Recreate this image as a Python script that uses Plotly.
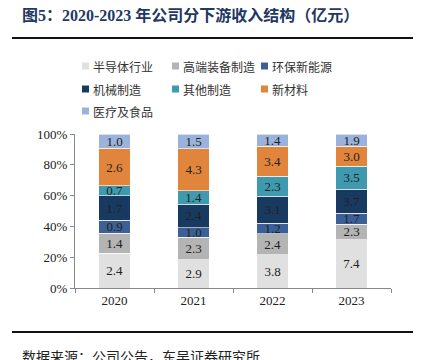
import plotly.graph_objects as go

years = ["2020", "2021", "2022", "2023"]
series_names = ["半导体行业", "高端装备制造", "环保新能源", "机械制造", "其他制造", "新材料", "医疗及食品"]
semiconductor = [2.4, 2.9, 3.8, 7.4]
high_end_equipment = [1.4, 2.3, 2.4, 2.3]
green_energy = [0.9, 1.0, 1.2, 1.7]
machinery = [1.7, 2.4, 3.1, 3.7]
other_mfg = [0.7, 1.4, 2.3, 3.5]
new_materials = [2.6, 4.3, 3.4, 3.0]
medical_food = [1.0, 1.5, 1.4, 1.9]
series_values = [semiconductor, high_end_equipment, green_energy, machinery,
                 other_mfg, new_materials, medical_food]
colors = ["#e0e0e0", "#b4b4b4", "#3c6096", "#183a60", "#3f9ab0", "#e0853b", "#9bb2da"]
y_ticks = [0, 20, 40, 60, 80, 100]
y_tick_labels = ["0%", "20%", "40%", "60%", "80%", "100%"]

# page offset (browser body margin)
OFF = 8
W, H = 421, 360
X0, X1, Y0, Y1 = 75, 391, 134, 288  # plot area in window pixels
ML, MR, MT, MB = X0 - OFF, W - X1, Y0 - OFF, H - Y1
FW, FH = W - OFF, H - OFF
PW, PH = X1 - X0, Y1 - Y0

def px(x):
    return (x - X0) / PW

def py(y):
    return (Y1 - y) / PH

serif = "Liberation Serif, Times New Roman, Noto Sans CJK SC, serif"
cjk = "Noto Sans CJK SC, sans-serif"

fig = go.Figure()
for name, vals, c in zip(series_names, series_values, colors):
    fig.add_trace(go.Bar(
        x=years, y=vals, name=name, marker=dict(color=c, line=dict(color="white", width=0.6)),
        text=[f"{v:.1f}" for v in vals], textposition="inside", insidetextanchor="middle",
        textangle=0, textfont=dict(family=serif, size=13, color="#222222"),
        width=0.4, showlegend=False,
    ))

annotations = []
shapes = []
legend_pos = [(85, 66), (175, 66), (264, 66), (85, 89), (175, 89), (264, 89), (85, 111)]
for (lx, ly), name, c in zip(legend_pos, series_names, colors):
    shapes.append(dict(type="rect", xref="paper", yref="paper",
                       x0=px(lx - 3), x1=px(lx + 4), y0=py(ly + 3.5), y1=py(ly - 3.5),
                       fillcolor=c, line=dict(width=0)))
    annotations.append(dict(x=px(lx + 6), y=py(ly), xref="paper", yref="paper",
                            text=name, showarrow=False, xanchor="left", yanchor="middle",
                            font=dict(family=cjk, size=12, color="#333333")))

annotations.append(dict(x=px(20), y=py(15), xref="paper", yref="paper",
                        text="<b>图5：2020-2023 年公司分下游收入结构（亿元）</b>",
                        showarrow=False, xanchor="left", yanchor="middle",
                        font=dict(family="Liberation Serif, Noto Sans CJK SC, serif", size=16, color="#1f3864")))
annotations.append(dict(x=px(20), y=py(344), xref="paper", yref="paper",
                        text="数据来源：公司公告，东吴证券研究所",
                        showarrow=False, xanchor="left", yanchor="top",
                        font=dict(family=cjk, size=14, color="#222222")))

shapes.append(dict(type="line", xref="paper", yref="paper", x0=px(12), x1=px(414),
                   y0=py(38), y1=py(38), line=dict(color="#111111", width=2)))
shapes.append(dict(type="line", xref="paper", yref="paper", x0=px(12), x1=px(414),
                   y0=py(332), y1=py(332), line=dict(color="#111111", width=2)))

fig.update_layout(
    width=FW, height=FH, margin=dict(l=ML, r=MR, t=MT, b=MB),
    barmode="stack", barnorm="percent",
    paper_bgcolor="white", plot_bgcolor="white",
    uniformtext=dict(minsize=13, mode="show"),
    annotations=annotations, shapes=shapes,
    xaxis=dict(type="category", showline=True, linecolor="#888888", linewidth=1,
               ticks="outside", ticklen=4, tickcolor="#888888", tickson="boundaries",
               tickfont=dict(family=serif, size=13, color="#222222"), showgrid=False),
    yaxis=dict(range=[0, 100], tickvals=y_ticks, ticktext=y_tick_labels,
               showline=True, linecolor="#888888", linewidth=1,
               ticks="outside", ticklen=4, tickcolor="#888888", showgrid=False,
               zeroline=False, tickfont=dict(family=serif, size=13, color="#222222")),
)

fig.write_html("out.html")
